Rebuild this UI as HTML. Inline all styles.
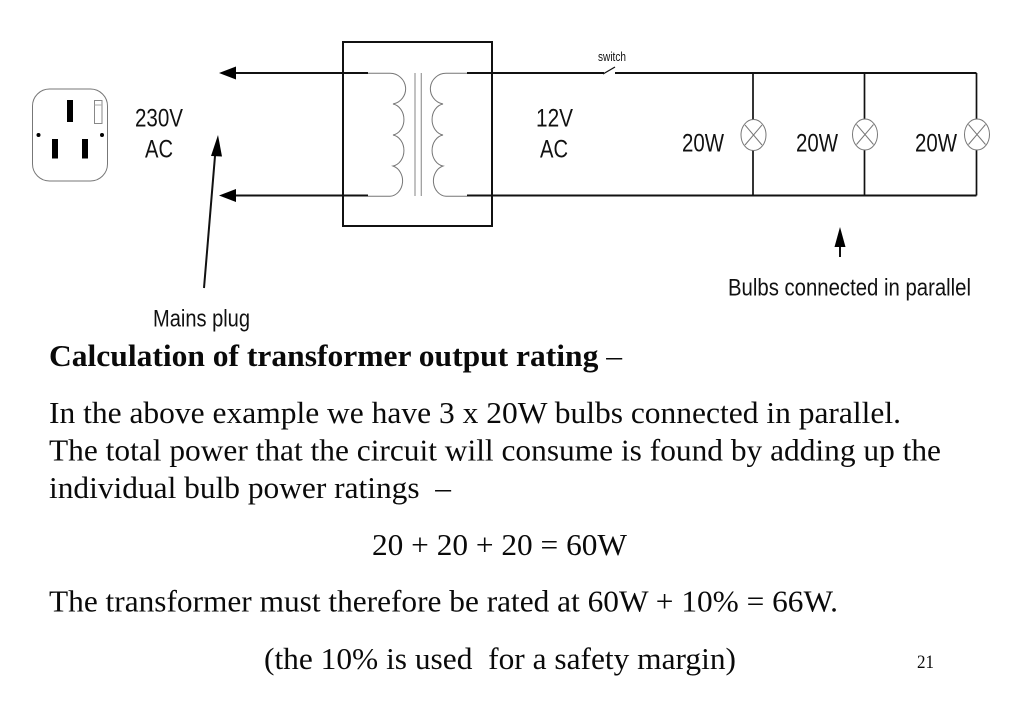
<!DOCTYPE html>
<html>
<head>
<meta charset="utf-8">
<style>
html,body{margin:0;padding:0;background:#fff;width:1023px;height:708px;overflow:hidden}
svg{display:block}
.h{font-family:"Liberation Sans",sans-serif;fill:#111}
.s{font-family:"Liberation Serif",serif;fill:#0a0a0a;font-size:30.5px}
</style>
</head>
<body>
<svg width="1023" height="708" viewBox="0 0 1023 708" xmlns="http://www.w3.org/2000/svg">
<!-- plug -->
<rect x="32.5" y="89" width="75" height="92" rx="17" ry="17" fill="#fff" stroke="#777" stroke-width="1"/>
<rect x="67" y="100" width="6" height="22" fill="#000"/>
<rect x="94.5" y="100.5" width="7.5" height="23" fill="#fff" stroke="#888" stroke-width="1"/>
<line x1="94.5" y1="105" x2="102" y2="105" stroke="#aaa" stroke-width="1"/>
<rect x="52" y="139" width="6" height="19.5" fill="#000"/>
<rect x="82" y="139" width="6" height="19.5" fill="#000"/>
<circle cx="38.5" cy="135" r="2" fill="#000"/>
<circle cx="102" cy="135" r="2" fill="#000"/>
<!-- wires and arrows -->
<g stroke="#111" stroke-width="2" fill="none">
<line x1="234" y1="73" x2="368" y2="73"/>
<line x1="234" y1="195.5" x2="368" y2="195.5"/>
<line x1="467" y1="73" x2="604" y2="73"/>
<line x1="615" y1="73" x2="976.5" y2="73"/>
<line x1="467" y1="195.5" x2="976.5" y2="195.5"/>
<rect x="343" y="42" width="149" height="184"/>
<line x1="204" y1="288" x2="215.5" y2="150"/>
<line x1="840" y1="245" x2="840" y2="257"/>
</g>
<g stroke="#111" stroke-width="1.7" fill="none">
<line x1="753" y1="73" x2="753" y2="120"/>
<line x1="753" y1="150" x2="753" y2="195.5"/>
<line x1="864.5" y1="73" x2="864.5" y2="120"/>
<line x1="864.5" y1="150" x2="864.5" y2="195.5"/>
<line x1="976.5" y1="73" x2="976.5" y2="120"/>
<line x1="976.5" y1="150" x2="976.5" y2="195.5"/>
</g>
<line x1="603" y1="74" x2="615" y2="67" stroke="#111" stroke-width="1.3"/>
<polygon points="219,73 236,66.5 236,79.5" fill="#000"/>
<polygon points="219,195.5 236,189 236,202" fill="#000"/>
<polygon points="218,135 211,156 222,156.5" fill="#000"/>
<polygon points="840,227 834.5,247 845.5,247" fill="#000"/>
<!-- coils -->
<g fill="none" stroke="#777" stroke-width="1">
<path d="M368 73.3 H390 A15.7 15.5 0 0 1 393 104 A13 15.7 0 0 1 393 135 A13 15.7 0 0 1 393 166 A13.5 15.5 0 0 1 390 196.3 H368"/>
<path d="M467 73.3 H446 A15.7 15.5 0 0 0 443 104 A13 15.7 0 0 0 443 135 A13 15.7 0 0 0 443 166 A13.5 15.5 0 0 0 446 196.3 H467"/>
</g>
<g stroke="#999" stroke-width="1.2">
<line x1="415" y1="73" x2="415" y2="196"/>
<line x1="421.3" y1="73" x2="421.3" y2="196"/>
</g>
<!-- bulbs -->
<g fill="#fff" stroke="#777" stroke-width="1">
<ellipse cx="753.5" cy="135" rx="12.5" ry="15.5"/>
<ellipse cx="865" cy="134.5" rx="12.5" ry="15.5"/>
<ellipse cx="977" cy="134.5" rx="12.5" ry="15.5"/>
<path fill="none" d="M745 125 L762 145 M762 125 L745 145"/>
<path fill="none" d="M856.5 124.5 L873.5 144.5 M873.5 124.5 L856.5 144.5"/>
<path fill="none" d="M968.5 124.5 L985.5 144.5 M985.5 124.5 L968.5 144.5"/>
</g>
<!-- diagram labels -->
<g class="h">
<text x="135" y="126.5" font-size="25" textLength="48" lengthAdjust="spacingAndGlyphs">230V</text>
<text x="145" y="157.5" font-size="25" textLength="28" lengthAdjust="spacingAndGlyphs">AC</text>
<text x="536" y="126.5" font-size="25" textLength="37" lengthAdjust="spacingAndGlyphs">12V</text>
<text x="540" y="157.5" font-size="25" textLength="28" lengthAdjust="spacingAndGlyphs">AC</text>
<text x="682" y="151.5" font-size="25" textLength="42" lengthAdjust="spacingAndGlyphs">20W</text>
<text x="796" y="151.5" font-size="25" textLength="42" lengthAdjust="spacingAndGlyphs">20W</text>
<text x="915" y="151.5" font-size="25" textLength="42" lengthAdjust="spacingAndGlyphs">20W</text>
<text x="598" y="61" font-size="13" textLength="28" lengthAdjust="spacingAndGlyphs">switch</text>
<text x="728" y="295.5" font-size="24.5" textLength="243" lengthAdjust="spacingAndGlyphs">Bulbs connected in parallel</text>
<text x="153" y="326.5" font-size="24.5" textLength="97" lengthAdjust="spacingAndGlyphs">Mains plug</text>
</g>
<!-- body text -->
<g class="s">
<text x="49" y="366" textLength="573" lengthAdjust="spacingAndGlyphs"><tspan font-weight="bold">Calculation of transformer output rating</tspan> –</text>
<text x="49" y="423" textLength="852" lengthAdjust="spacingAndGlyphs">In the above example we have 3 x 20W bulbs connected in parallel.</text>
<text x="49" y="460.5" textLength="892" lengthAdjust="spacingAndGlyphs">The total power that the circuit will consume is found by adding up the</text>
<text x="49" y="498" xml:space="preserve" textLength="402" lengthAdjust="spacingAndGlyphs">individual bulb power ratings  –</text>
<text x="372" y="555" textLength="255" lengthAdjust="spacingAndGlyphs">20 + 20 + 20 = 60W</text>
<text x="49" y="611.5" textLength="789" lengthAdjust="spacingAndGlyphs">The transformer must therefore be rated at 60W + 10% = 66W.</text>
<text x="264" y="669" xml:space="preserve" textLength="472" lengthAdjust="spacingAndGlyphs">(the 10% is used  for a safety margin)</text>
<text x="917" y="668" font-size="18.5" textLength="17" lengthAdjust="spacingAndGlyphs">21</text>
</g>
</svg>
</body>
</html>
